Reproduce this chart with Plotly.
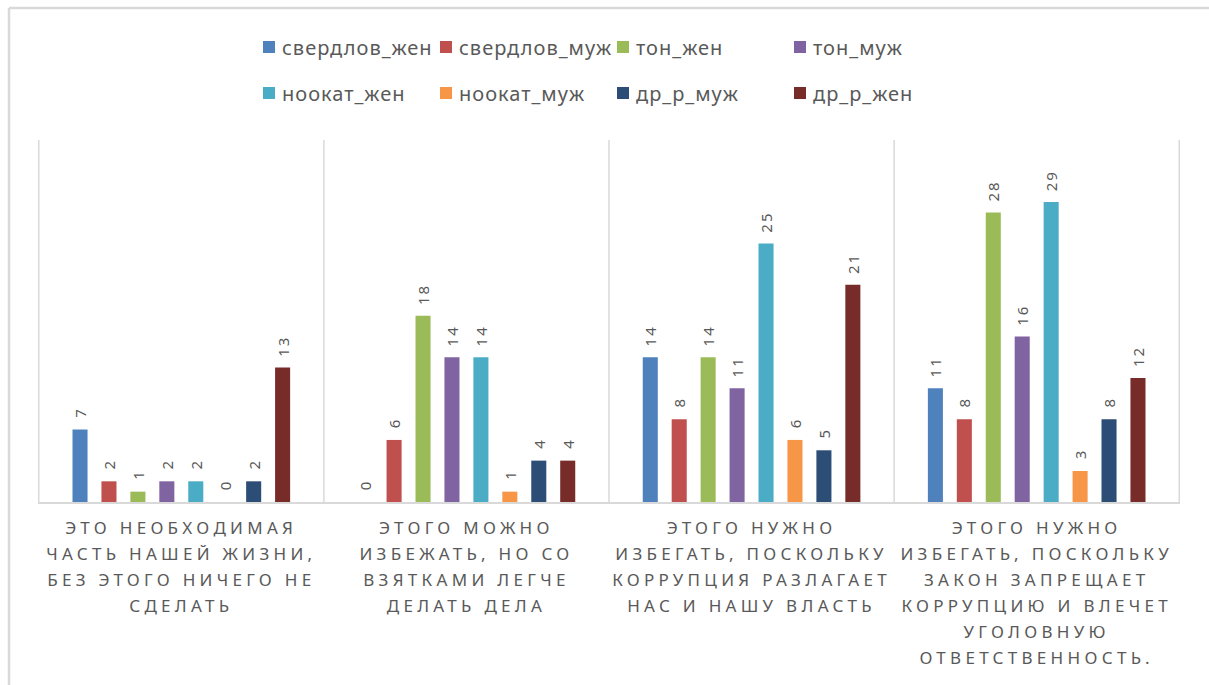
import plotly.graph_objects as go

categories = [
    "ЭТО НЕОБХОДИМАЯ<br>ЧАСТЬ НАШЕЙ ЖИЗНИ,<br>БЕЗ ЭТОГО НИЧЕГО НЕ<br>СДЕЛАТЬ",
    "ЭТОГО МОЖНО<br>ИЗБЕЖАТЬ, НО СО<br>ВЗЯТКАМИ ЛЕГЧЕ<br>ДЕЛАТЬ ДЕЛА",
    "ЭТОГО НУЖНО<br>ИЗБЕГАТЬ, ПОСКОЛЬКУ<br>КОРРУПЦИЯ РАЗЛАГАЕТ<br>НАС И НАШУ ВЛАСТЬ",
    "ЭТОГО НУЖНО<br>ИЗБЕГАТЬ, ПОСКОЛЬКУ<br>ЗАКОН ЗАПРЕЩАЕТ<br>КОРРУПЦИЮ И ВЛЕЧЕТ<br>УГОЛОВНУЮ<br>ОТВЕТСТВЕННОСТЬ.",
]

series_names = ["свердлов_жен", "свердлов_муж", "тон_жен", "тон_муж",
                "ноокат_жен", "ноокат_муж", "др_р_муж", "др_р_жен"]

sverdlov_zhen = [7, 0, 14, 11]
sverdlov_muzh = [2, 6, 8, 8]
ton_zhen = [1, 18, 14, 28]
ton_muzh = [2, 14, 11, 16]
nookat_zhen = [2, 14, 25, 29]
nookat_muzh = [0, 1, 6, 3]
dr_r_muzh = [2, 4, 5, 8]
dr_r_zhen = [13, 4, 21, 12]

series_values = [sverdlov_zhen, sverdlov_muzh, ton_zhen, ton_muzh,
                 nookat_zhen, nookat_muzh, dr_r_muzh, dr_r_zhen]

colors = ["#4F81BD", "#C0504D", "#9BBB59", "#8064A2",
          "#4BACC6", "#F79646", "#2C4D75", "#772C2A"]

GRAY = "#595959"
LINE = "#D9D9D9"
FONT = "Noto Sans"

fig = go.Figure()
for i, (name, vals, col) in enumerate(zip(series_names, series_values, colors)):
    fig.add_trace(go.Bar(
        x=categories, y=vals, name=name,
        marker=dict(color=col, line=dict(width=0)),
        text=vals,
        texttemplate="\u00a0\u00a0%{y}",
        textposition="outside",
        textangle=-90,
        constraintext="none",
        cliponaxis=False,
        textfont=dict(family=FONT, size=15, color=GRAY),
        legend="legend" if i < 4 else "legend2",
    ))

shapes = []
for b in [-0.5, 0.5, 1.5, 2.5, 3.5]:
    shapes.append(dict(type="line", xref="x", yref="y domain", x0=b, x1=b, y0=0, y1=1,
                       line=dict(color=LINE, width=1.5), layer="below"))
# outer frame (top and left edges)
shapes.append(dict(type="line", xref="paper", yref="paper",
                   x0=(9 - 38) / 1142, x1=(1220 - 38) / 1142,
                   y0=(502 - 8) / 362, y1=(502 - 8) / 362,
                   line=dict(color=LINE, width=2.5)))
shapes.append(dict(type="line", xref="paper", yref="paper",
                   x0=(9 - 38) / 1142, x1=(9 - 38) / 1142,
                   y0=(502 - 8) / 362, y1=(502 - 700) / 362,
                   line=dict(color=LINE, width=2.5)))

legend_common = dict(orientation="h", xanchor="left", yanchor="middle",
                     entrywidth=132, entrywidthmode="pixels",
                     font=dict(family=FONT, size=20, color=GRAY),
                     bgcolor="rgba(0,0,0,0)", traceorder="normal",
                     itemclick=False, itemdoubleclick=False)

fig.update_layout(
    width=1209, height=685,
    margin=dict(l=38, r=29, t=140, b=183, autoexpand=False),
    paper_bgcolor="white", plot_bgcolor="white",
    barmode="group", bargap=0.188, bargroupgap=0.48,
    font=dict(family=FONT, color=GRAY),
    xaxis=dict(showline=True, linecolor=LINE, linewidth=1.5, showgrid=False,
               ticks="", ticklabelstandoff=10,
               tickfont=dict(family=FONT, size=17, color=GRAY),
               tickangle=0, fixedrange=True),
    yaxis=dict(range=[0, 35], visible=False, showgrid=False, fixedrange=True),
    legend=dict(x=(249 - 38) / 1142, y=(502 - 47) / 362, **legend_common),
    legend2=dict(x=(249 - 38) / 1142, y=(502 - 93) / 362, **legend_common),
    shapes=shapes,
    showlegend=True,
)

post = """
document.body.style.margin = '0';
document.body.style.overflow = 'hidden';
var gd = document.getElementById('{plot_id}');
function fixText(){
  gd.querySelectorAll('.xtick text').forEach(function(t){
    t.style.letterSpacing = '4.3px';
    t.querySelectorAll('tspan.line').forEach(function(s, i){
      var v = (i * 1.53) + 'em';
      if (s.getAttribute('dy') !== v) s.setAttribute('dy', v);
    });
  });
  gd.querySelectorAll('g.legend text, g.legend2 text, text.legendtext').forEach(function(t){
    t.style.letterSpacing = '1px';
    if (t.getAttribute('x') !== '33') t.setAttribute('x', '33');
  });
  gd.querySelectorAll('.bartext').forEach(function(t){
    t.style.letterSpacing = '2px';
  });
}
fixText();
var obs = new MutationObserver(function(){ fixText(); });
obs.observe(gd, {childList: true, subtree: true, attributes: true, attributeFilter: ['x', 'dy']});
var n = 0;
var iv = setInterval(function(){ fixText(); n++; if (n > 60) clearInterval(iv); }, 50);
"""

fig.write_html("out.html", post_script=post, config={"displayModeBar": False})
